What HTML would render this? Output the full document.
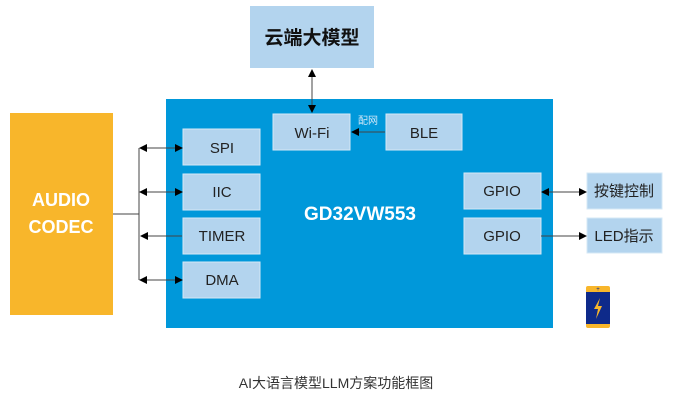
<!DOCTYPE html>
<html><head><meta charset="utf-8"><style>
html,body{margin:0;padding:0;background:#fff;}
svg{display:block;}
text{font-family:"Liberation Sans","Noto Sans CJK SC",sans-serif;}
</style></head><body>
<svg width="673" height="401" viewBox="0 0 673 401" xmlns="http://www.w3.org/2000/svg">
<defs>
<marker id="a" markerWidth="8" markerHeight="8" refX="7" refY="4" orient="auto" markerUnits="userSpaceOnUse">
<path d="M0,0 L8,4 L0,8 z" fill="#000"/></marker>
<marker id="s" markerWidth="8" markerHeight="8" refX="1" refY="4" orient="auto" markerUnits="userSpaceOnUse">
<path d="M8,0 L0,4 L8,8 z" fill="#000"/></marker>
</defs>
<rect x="250" y="6" width="124" height="62" fill="#b3d4ee"/>
<text x="312" y="44" font-size="19" font-weight="bold" text-anchor="middle" fill="#111">云端大模型</text>
<rect x="10" y="113" width="103" height="202" fill="#f8b62b"/>
<text x="61" y="206" font-size="18" font-weight="bold" text-anchor="middle" fill="#fff">AUDIO</text>
<text x="61" y="233" font-size="18" font-weight="bold" text-anchor="middle" fill="#fff">CODEC</text>
<rect x="166" y="99" width="387" height="229" fill="#0098da"/>
<text x="360" y="220" font-size="19" font-weight="bold" text-anchor="middle" fill="#fff">GD32VW553</text>
<g fill="#b3d4ee" stroke="#d6e8f6" stroke-width="1">
<rect x="183" y="129" width="77" height="36"/>
<rect x="183" y="174" width="77" height="36"/>
<rect x="183" y="218" width="77" height="36"/>
<rect x="183" y="262" width="77" height="36"/>
<rect x="273" y="114" width="77" height="36"/>
<rect x="386" y="114" width="76" height="36"/>
<rect x="464" y="173" width="77" height="36"/>
<rect x="464" y="218" width="77" height="36"/>
<rect x="587" y="173" width="75" height="36"/>
<rect x="587" y="218" width="75" height="35"/>
</g>
<g font-size="15" text-anchor="middle" fill="#222">
<text x="222" y="153">SPI</text>
<text x="222" y="197">IIC</text>
<text x="222" y="241">TIMER</text>
<text x="222" y="285">DMA</text>
<text x="312" y="138">Wi-Fi</text>
<text x="424" y="138">BLE</text>
<text x="502" y="196">GPIO</text>
<text x="502" y="241">GPIO</text>
<text x="624" y="196">按键控制</text>
<text x="624" y="241">LED指示</text>
</g>
<text x="368" y="124" font-size="10" text-anchor="middle" fill="#cfe6f7">配网</text>
<g stroke="#444" stroke-width="1" fill="none">
<line x1="312" y1="70" x2="312" y2="112" marker-start="url(#s)" marker-end="url(#a)"/>
<line x1="385" y1="132" x2="352" y2="132" marker-end="url(#a)"/>
<line x1="113" y1="214" x2="139" y2="214"/>
<line x1="139" y1="148" x2="139" y2="280"/>
<line x1="140" y1="148" x2="182" y2="148" marker-start="url(#s)" marker-end="url(#a)"/>
<line x1="140" y1="192" x2="182" y2="192" marker-start="url(#s)" marker-end="url(#a)"/>
<line x1="182" y1="236" x2="141" y2="236" marker-end="url(#a)"/>
<line x1="140" y1="280" x2="182" y2="280" marker-start="url(#s)" marker-end="url(#a)"/>
<line x1="542" y1="192" x2="586" y2="192" marker-start="url(#s)" marker-end="url(#a)"/>
<line x1="541" y1="236" x2="586" y2="236" marker-end="url(#a)"/>
</g>
<rect x="586" y="286" width="24" height="42" rx="2" fill="#f8b62b"/>
<rect x="586" y="292" width="24" height="32" fill="#0e2a8a"/>
<text x="598" y="291" font-size="6" text-anchor="middle" fill="#0e2a8a">+</text>
<path d="M600,298 L594,309 L598,309 L596,319 L602,306 L598,306 Z" fill="#f8b62b"/>
<text x="336" y="388" font-size="14" text-anchor="middle" fill="#333">AI大语言模型LLM方案功能框图</text>
</svg>
</body></html>
